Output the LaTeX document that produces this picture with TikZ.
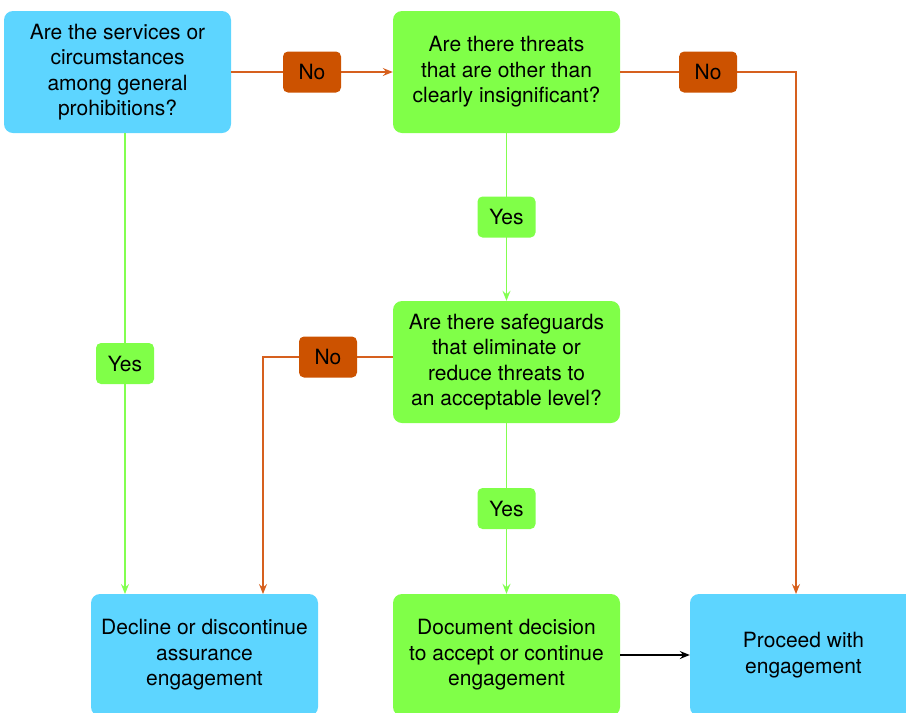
\documentclass[tikz,border=0pt]{standalone}
\usepackage{fontspec}
\setmainfont{TeX Gyre Heros}
\usetikzlibrary{arrows.meta,positioning}
\definecolor{boxblue}{RGB}{93,213,255}
\definecolor{boxgreen}{RGB}{128,255,72}
\definecolor{laborange}{RGB}{204,82,0}
\definecolor{lineorange}{RGB}{214,96,30}
\definecolor{linegreen}{RGB}{130,255,80}
\tikzset{
  box/.style={rounded corners=9pt, minimum width=227pt, minimum height=122pt, align=center,
     font=\fontsize{21}{25.5}\selectfont, inner sep=0pt},
  bluebox/.style={box, fill=boxblue},
  greenbox/.style={box, fill=boxgreen},
  lab/.style={rounded corners=5pt, minimum width=58pt, minimum height=41pt, inner sep=0pt,
     font=\fontsize{21}{24}\selectfont},
  nolab/.style={lab, fill=laborange},
  yeslab/.style={lab, fill=boxgreen},
  tip/.style={-{Stealth[length=10pt,width=8pt,inset=3.5pt]}},
  orangeline/.style={draw=lineorange, line width=1.3pt, tip},
  greenline/.style={draw=linegreen, line width=1.3pt, tip},
  blackline/.style={draw=black, line width=1.3pt, tip},
}
\begin{document}
\begin{tikzpicture}[x=1pt,y=-1pt]
\useasboundingbox (0,0) rectangle (906,713);
\clip (0,0) rectangle (906,713);
\node[bluebox] (A) at (117.5,72) {Are the services or\\circumstances\\among general\\prohibitions?};
\node[greenbox] (B) at (506.5,72) {Are there threats\\that are other than\\clearly insignificant?};
\node[greenbox] (C) at (506.5,362) {Are there safeguards\\that eliminate or\\reduce threats to\\an acceptable level?};
\node[bluebox] (D) at (204.5,655) {Decline or discontinue\\assurance\\engagement};
\node[greenbox] (E) at (506.5,655) {Document decision\\to accept or continue\\engagement};
\node[bluebox] (F) at (803.5,655) {Proceed with\\engagement};
\coordinate (Fin) at (796,594);
\coordinate (Din) at (263,594);
\coordinate (Cout) at (393,357);
\coordinate (Aout) at (125,133);
\coordinate (Dleft) at (125,594);
% connectors
\draw[orangeline] (A.east) -- node[nolab] (n1) {No} (B.west);
\draw[orangeline] (B.east) -| node[pos=0.25, nolab] (n2) {No} (Fin);
\draw[greenline] (B.south) -- node[yeslab] (y1) {Yes} (C.north);
\draw[orangeline] (Cout) -| node[pos=0.25, nolab] (n3) {No} (Din);
\draw[greenline] (Aout) -- node[yeslab] (y2) {Yes} (Dleft);
\draw[greenline] (C.south) -- node[yeslab] (y3) {Yes} (E.north);
\draw[blackline] (E.east) -- (F.west);
\end{tikzpicture}
\end{document}
